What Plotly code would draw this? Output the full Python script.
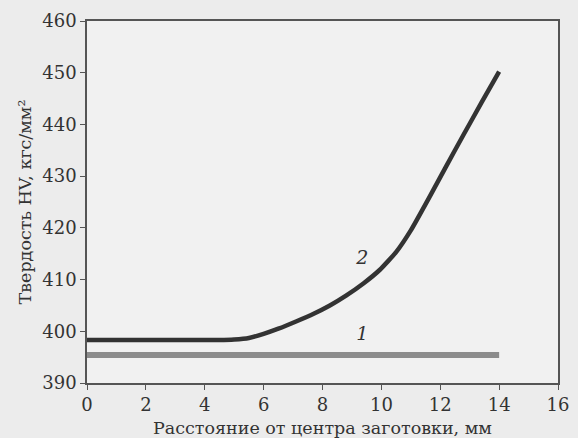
import plotly.graph_objects as go

# Curve 1
x1 = [0, 14]
y1 = [395.4, 395.4]

# Curve 2
x2 = [0, 2, 4, 4.5, 5.0, 5.5, 6.0, 6.5, 7.1, 7.7, 8.25, 8.8, 9.4, 9.95, 10.5, 11.0, 11.6, 12.2, 12.8, 13.4, 14.0]
y2 = [398.3, 398.3, 398.3, 398.3, 398.4, 398.7, 399.5, 400.5, 401.9, 403.4, 405.0, 406.9, 409.3, 411.9, 415.3, 419.5, 425.6, 431.9, 438.1, 444.2, 450.2]

labels = ["<i>1</i>", "<i>2</i>"]
label_x = [9.35, 9.35]
label_y = [399.2, 414.0]

x_ticks = [0, 2, 4, 6, 8, 10, 12, 14, 16]
y_ticks = [390, 400, 410, 420, 430, 440, 450, 460]

font_family = "DejaVu Serif, Liberation Serif, serif"

fig = go.Figure()
fig.add_trace(go.Scatter(x=x1, y=y1, mode="lines",
                         line=dict(color="#8c8c8c", width=6), showlegend=False))
fig.add_trace(go.Scatter(x=x2, y=y2, mode="lines",
                         line=dict(color="#333333", width=4.5, shape="spline", smoothing=0.4),
                         showlegend=False))
fig.add_trace(go.Scatter(x=label_x, y=label_y, mode="text", text=labels,
                         textfont=dict(family=font_family, size=19, color="#333333"),
                         showlegend=False))

fig.update_layout(
    width=578, height=438,
    margin=dict(l=87, r=20, t=21, b=55),
    paper_bgcolor="#ececec",
    plot_bgcolor="#f1f1f1",
    font=dict(family=font_family, size=17, color="#333333"),
)
fig.update_xaxes(
    range=[0, 16], tickvals=x_ticks, ticks="outside", ticklen=5, tickcolor="#555555",
    showline=True, linecolor="#555555", linewidth=1.5, mirror=True,
    showgrid=False, zeroline=False, automargin=False,
    title=dict(text="Расстояние от центра заготовки, мм", font=dict(size=17.5), standoff=8),
    tickfont=dict(size=18),
)
fig.update_yaxes(
    range=[390, 460], tickvals=y_ticks, ticks="outside", ticklen=5, tickcolor="#555555",
    showline=True, linecolor="#555555", linewidth=1.5, mirror=True,
    showgrid=False, zeroline=False, automargin=False,
    title=dict(text="Твердость HV, кгс/мм²", font=dict(size=17.5), standoff=6),
    tickfont=dict(size=18),
)
fig.write_html("out.html", config={"displayModeBar": False},
               post_script="document.body.style.margin='0px';document.body.style.background='#ececec';")
